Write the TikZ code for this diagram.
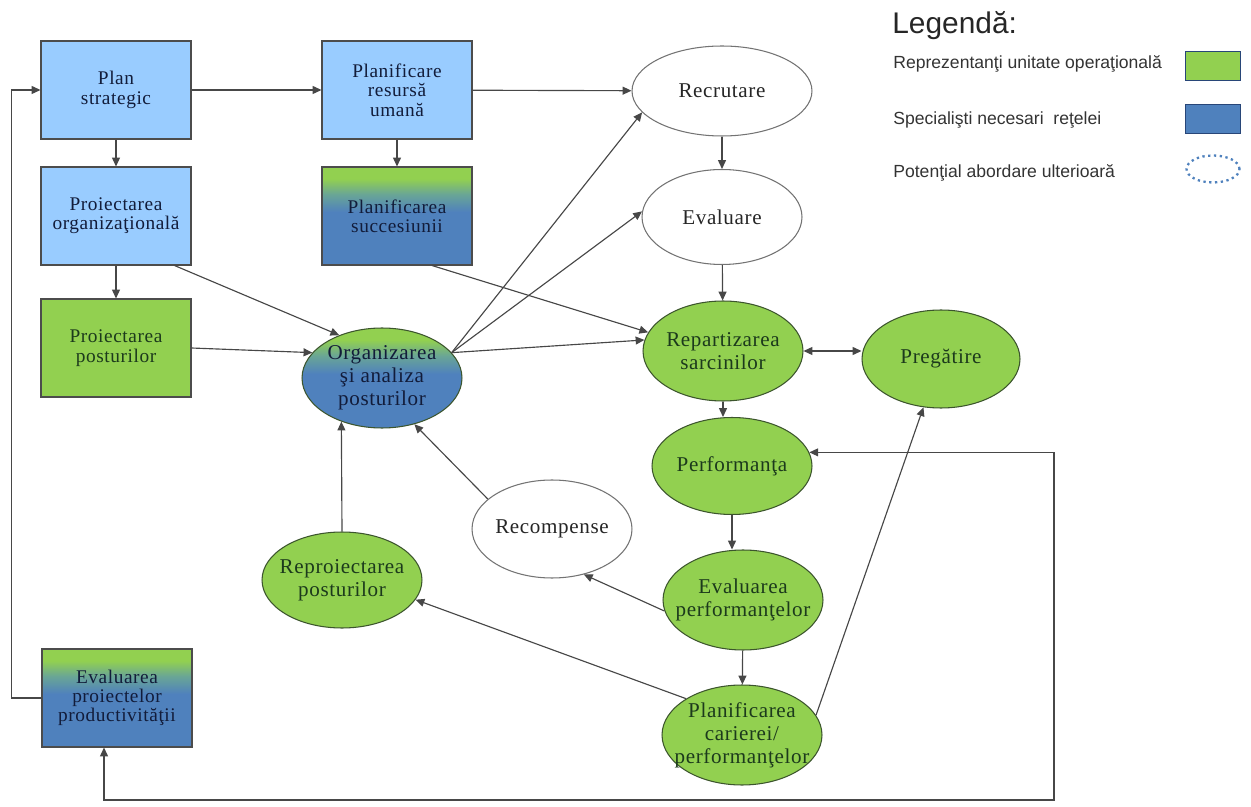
\documentclass[tikz,border=0pt]{standalone}
\usepackage{fontspec}
\setmainfont{Liberation Serif}[LetterSpace=3]
\newfontfamily\legfont{Liberation Sans}
\usetikzlibrary{arrows.meta,shapes.geometric}
\definecolor{lblue}{RGB}{153,204,255}
\definecolor{grn}{RGB}{146,208,80}
\definecolor{blu}{RGB}{79,129,189}
\definecolor{mixc}{RGB}{105,165,150}
\definecolor{txtg}{RGB}{28,58,28}
\definecolor{txtb}{RGB}{18,28,58}
\definecolor{grnedge}{RGB}{60,85,45}
\definecolor{legedge}{RGB}{40,70,120}
\pgfdeclareverticalshading{grnblu}{100bp}{color(0bp)=(blu); color(25bp)=(blu); color(52bp)=(blu); color(61bp)=(mixc); color(69bp)=(grn); color(100bp)=(grn)}
\tikzset{
  >={Triangle[length=5pt,width=4.5pt]},
  hrbox/.style={rectangle, draw=black!70, line width=0.6pt, minimum width=3cm, minimum height=1.96cm,
    align=center, inner sep=1pt, font=\fontsize{11}{11}\selectfont, text=txtb},
  hrell/.style={ellipse, draw=grnedge, line width=0.6pt, minimum width=3.2cm, minimum height=2cm,
    align=center, inner xsep=-10pt, inner ysep=-9pt, font=\fontsize{12}{13}\selectfont},
  lbbox/.style={hrbox, fill=lblue},
  gnbox/.style={hrbox, fill=grn, text=txtg},
  gbbox/.style={hrbox, shade, shading=grnblu, text=txtb},
  gnell/.style={hrell, fill=grn, text=txtg},
  whell/.style={hrell, fill=white, draw=black!55, text=black!85},
  gbell/.style={hrell, shade, shading=grnblu, text=txtb},
  arr/.style={->, draw=black!72, line width=0.65pt},
  legtxt/.style={anchor=west, inner sep=0pt, font=\legfont\fontsize{10}{12}\selectfont, text=black!80}
}
\begin{document}
\begin{tikzpicture}[x=0.02cm, y=-0.02cm]
    \useasboundingbox (0,0) rectangle (1251,807);

    \node[lbbox] (plan) at (116,90) {Plan\\strategic};
    \node[lbbox] (prhr) at (397,90) {Planificare\\resursă\\umană};
    \node[lbbox] (porg) at (116,216) {Proiectarea\\organizaţională};
    \node[gbbox] (succ) at (397,216) {Planificarea\\succesiunii};
    \node[gnbox] (ppost) at (116,348) {Proiectarea\\posturilor};
    \node[gbbox] (evproi) at (117,698) {Evaluarea\\proiectelor\\productivităţii};

    \node[gbell] (org) at (382,378) {Organizarea\\şi analiza\\posturilor};
    \node[whell, minimum width=3.6cm, minimum height=1.8cm] (recr) at (722,91) {Recrutare};
    \node[whell, minimum height=1.9cm] (eval) at (722,217) {Evaluare};
    \node[gnell] (rep) at (723,351) {Repartizarea\\sarcinilor};
    \node[gnell, minimum width=3.16cm, minimum height=1.96cm] (preg) at (941,359) {Pregătire};
    \node[gnell, minimum height=1.94cm] (perf) at (732,466) {Performanţa};
    \node[whell, minimum height=1.96cm] (recomp) at (552,529) {Recompense};
    \node[gnell, minimum height=1.92cm] (reproi) at (342,580) {Reproiectarea\\posturilor};
    \node[gnell] (evperf) at (743,600) {Evaluarea\\performanţelor};
    \node[gnell] (cariera) at (742,735) {Planificarea\\carierei/\\performanţelor};
    \coordinate (loop) at (1054,800);

    \draw[arr] (plan) -- (prhr);
    \draw[arr] (prhr) -- (recr);
    \draw[arr] (plan) -- (porg);
    \draw[arr] (prhr) -- (succ);
    \draw[arr] (porg) -- (ppost);
    \draw[arr] ([xshift=-0.34cm]porg.south east) -- (org.135);
    \draw[arr] (ppost.east) -- (org.160);
    \draw[arr] ([xshift=0.7cm]succ.south) -- (rep.166);
    \draw[arr] (org.20) -- (recr.195);
    \draw[arr] (org.20) -- (eval.176);
    \draw[arr] (org.20) -- (rep.172);
    \draw[arr] (recr) -- (eval);
    \draw[arr] (eval) -- (rep);
    \draw[arr] (rep.south) -- (rep.south |- perf.north);
    \draw[arr, <->] (rep.east) -- (rep.east -| preg.west);
    \draw[arr] (perf.south) -- (perf.south |- evperf.north);
    \draw[arr] (evperf) -- (cariera);
    \draw[arr] (evperf.188) -- (recomp.305);
    \draw[arr] (recomp.155) -- (org.305);
    \draw[arr] (reproi.north) -- (org.227);
    \draw[arr] (cariera.147) -- (reproi.345);
    \draw[arr] (cariera.15) -- (preg.250);
    \draw[arr] (evproi.west) -- ++(-30,0) |- (plan.west);
    \draw[arr, <->] ([xshift=-0.26cm]evproi.south) |- (loop) |- (perf.10);

    \node[anchor=base west, inner sep=0pt, font=\legfont\fontsize{17}{19}\selectfont, text=black!85] (legtitle) at (892,34) {Legendă:};
    \node[legtxt] (leg1) at (893,64) {Reprezentanţi unitate operaţională};
    \node[legtxt] (leg2) at (893,120) {Specialişti necesari\ \ reţelei};
    \node[legtxt] (leg3) at (893,173) {Potenţial abordare ulterioară};
    \node[draw=legedge, line width=1pt, fill=grn, minimum width=1.1cm, minimum height=0.58cm] (leggrn) at (1213,66) {};
    \node[draw=legedge, line width=1pt, fill=blu, minimum width=1.1cm, minimum height=0.58cm] (legblu) at (1213,119) {};
    \node[ellipse, draw=blu, dotted, line width=1.3pt, minimum width=1.06cm, minimum height=0.54cm] (legdot) at (1213,169) {};
\end{tikzpicture}
\end{document}
